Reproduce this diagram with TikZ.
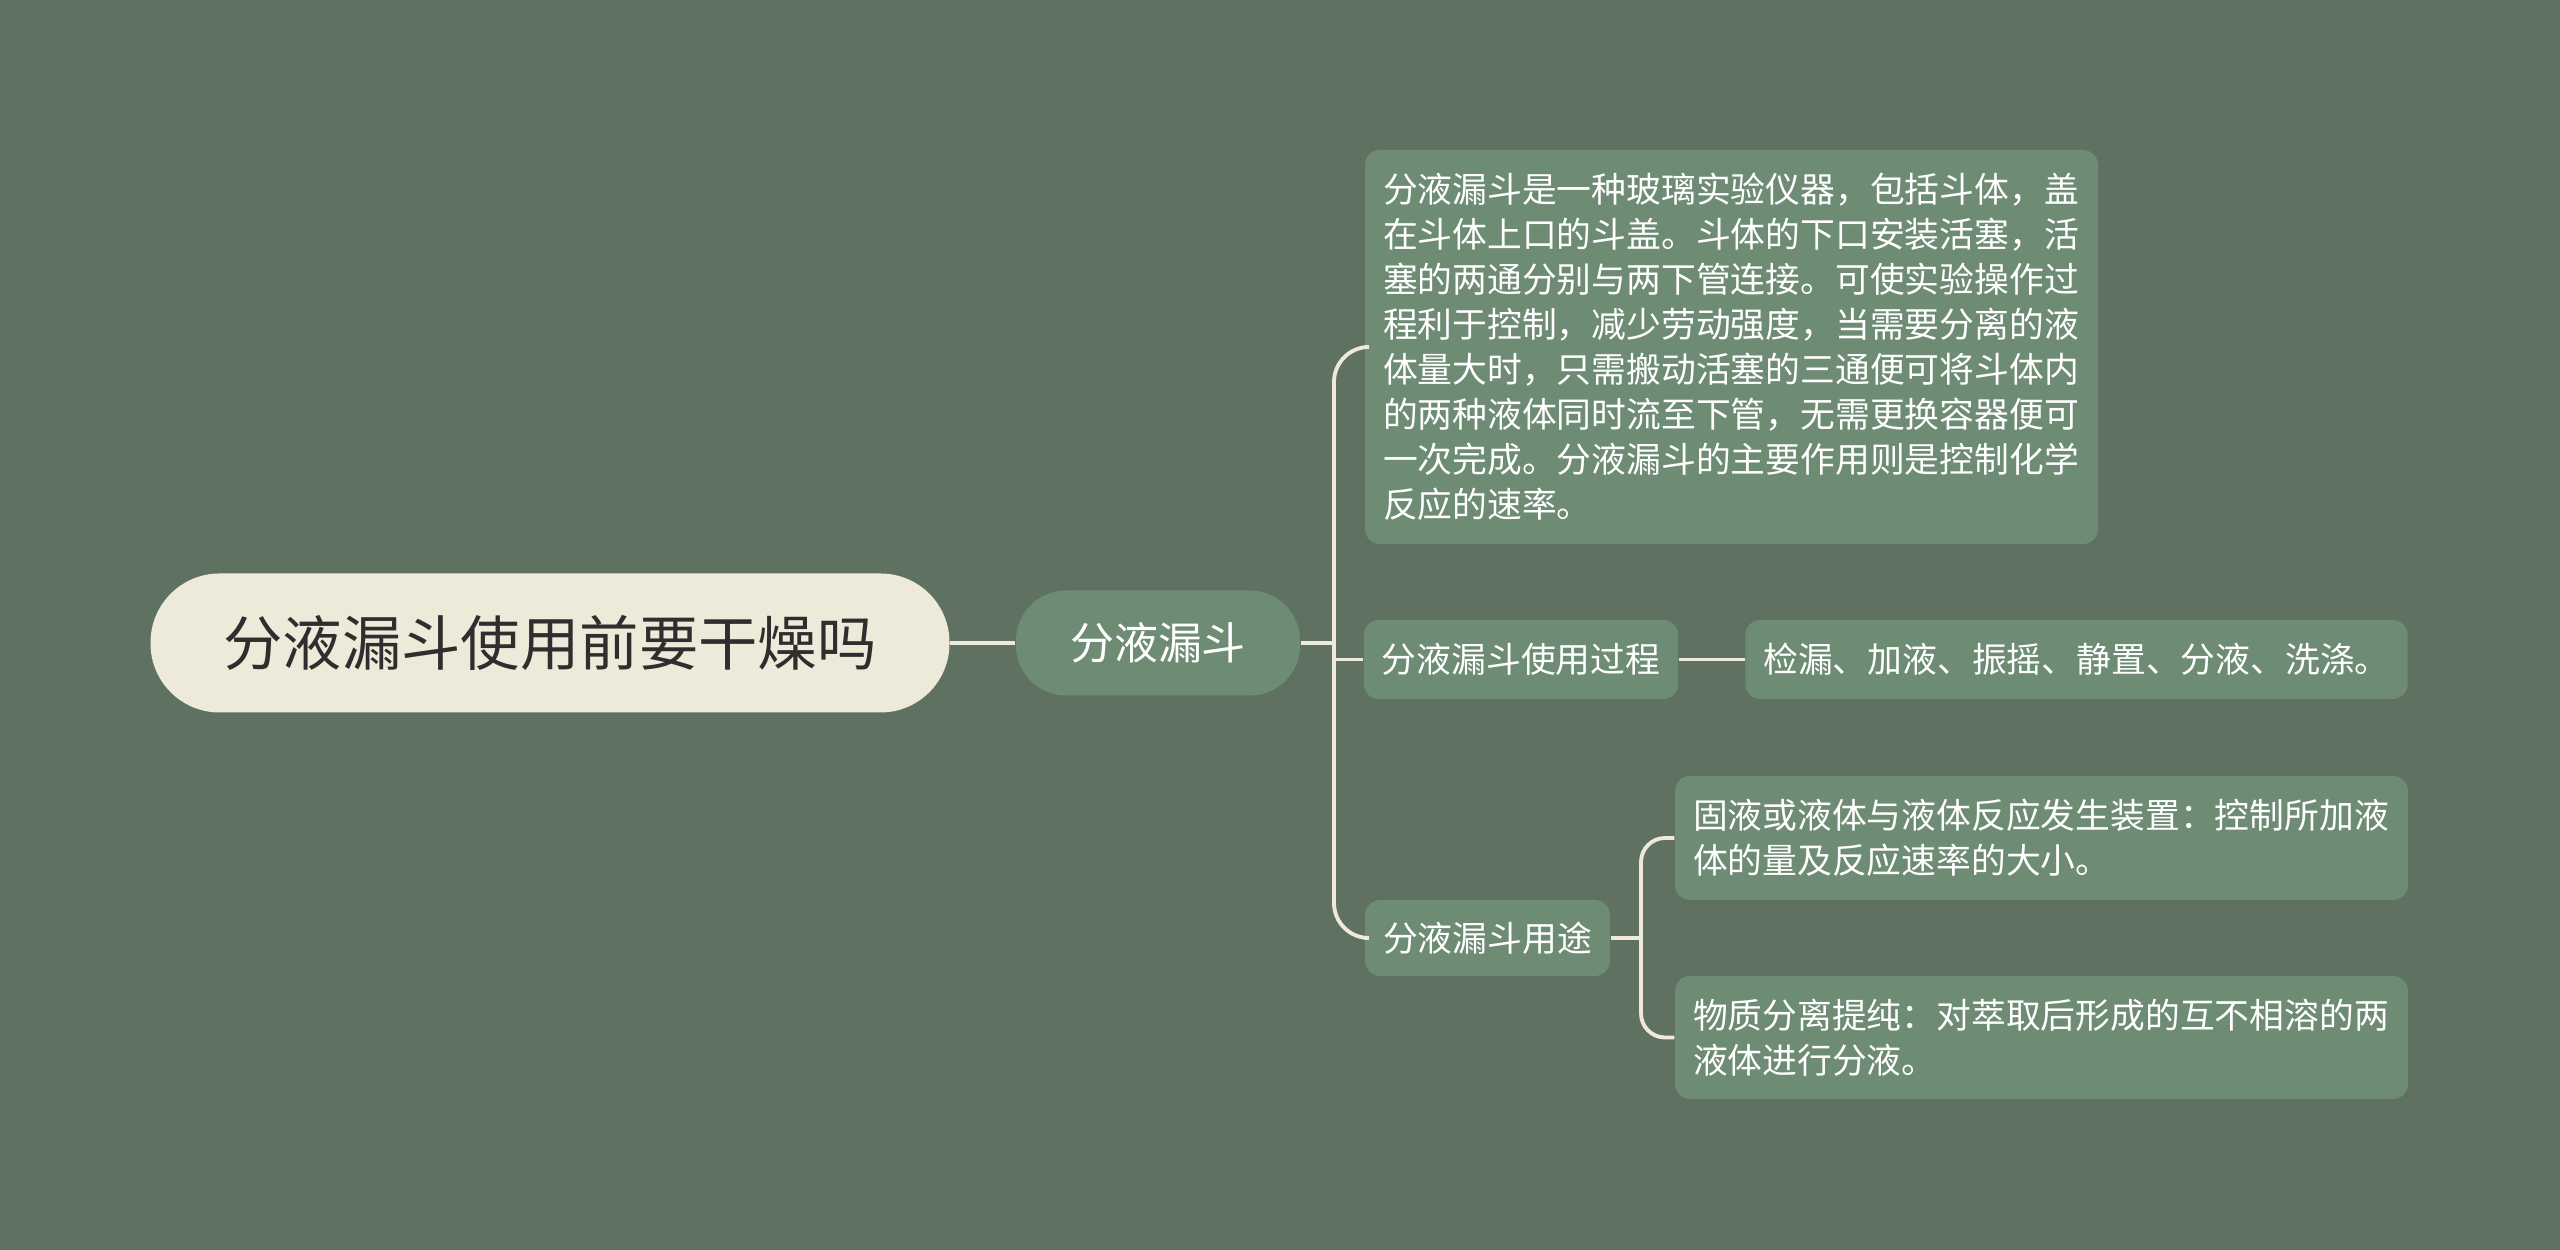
\documentclass[tikz,border=0pt]{standalone}
\usepackage{fontspec}
\newfontfamily\cjk{Noto Sans CJK SC}
\usepackage{xcolor}
\usetikzlibrary{shapes,positioning}
\definecolor{bg}{HTML}{5F7262}
\definecolor{leafgreen}{HTML}{6E8B74}
\definecolor{cream}{HTML}{EEEADA}
\definecolor{ink}{HTML}{2E2E2E}
\tikzset{rootbox/.style={fill=cream,text=ink,rounded corners=0.69cm,minimum width=7.99cm,minimum height=1.39cm,font={\cjk\fontsize{16.9pt}{20pt}\selectfont}}}
\tikzset{topic/.style={fill=leafgreen,text=white,rounded corners=0.5cm,minimum width=2.84cm,minimum height=1.05cm,font={\cjk\fontsize{12.5pt}{15pt}\selectfont}}}
\tikzset{leaf/.style={fill=leafgreen,text=white,rounded corners=0.15cm,inner xsep=0.18cm,inner ysep=0.2cm,minimum height=0.79cm,align=left,font={\cjk\fontsize{9.9pt}{12.8pt}\selectfont}}}
\tikzset{link/.style={draw=cream,line width=1.1pt}}

\begin{document}
\begin{tikzpicture}[>=stealth]
    \fill[bg] (0,0) rectangle (25.6,12.5);
    \useasboundingbox (0,0) rectangle (25.6,12.5);

    \node[rootbox] (root)at (5.50,6.07) {分液漏斗使用前要干燥吗};
    \node[topic] (fy)at (11.58,6.07) {分液漏斗};
    \node[leaf,text width=6.97cm,minimum height=3.94cm] (jianjie)at (17.315,9.03) {分液漏斗是一种玻璃实验仪器，包括斗体，盖\\在斗体上口的斗盖。斗体的下口安装活塞，活\\塞的两通分别与两下管连接。可使实验操作过\\程利于控制，减少劳动强度，当需要分离的液\\体量大时，只需搬动活塞的三通便可将斗体内\\的两种液体同时流至下管，无需更换容器便可\\一次完成。分液漏斗的主要作用则是控制化学\\反应的速率。};
    \node[leaf] (guocheng)at (15.21,5.905) {分液漏斗使用过程};
    \node[leaf] (buzhou)at (20.765,5.905) {检漏、加液、振摇、静置、分液、洗涤。};
    \node[leaf,minimum height=0.76cm] (yongtu)at (14.875,3.12) {分液漏斗用途};
    \node[leaf,text width=6.97cm,minimum height=1.24cm] (zhuangzhi)at (20.415,4.12) {固液或液体与液体反应发生装置：控制所加液\\体的量及反应速率的大小。};
    \node[leaf,text width=6.97cm,minimum height=1.23cm] (fenli)at (20.415,2.125) {物质分离提纯：对萃取后形成的互不相溶的两\\液体进行分液。};

    \coordinate (j) at (13.34,6.07);
    \coordinate (k) at (16.41,3.12);

    \draw [link] (root) to [] (fy);
    \draw [link] (fy) to [] (j);
    \draw [link,rounded corners=0.35cm] (jianjie.west) -| (j) |- (yongtu.west);
    \draw [link] (j |- guocheng.west) to [] (guocheng);
    \draw [link] (guocheng) to [] (buzhou);
    \draw [link] (yongtu) to [] (k);
    \draw [link,rounded corners=0.24cm] (zhuangzhi.west) -| (k) |- (fenli.west);
\end{tikzpicture}
\end{document}
